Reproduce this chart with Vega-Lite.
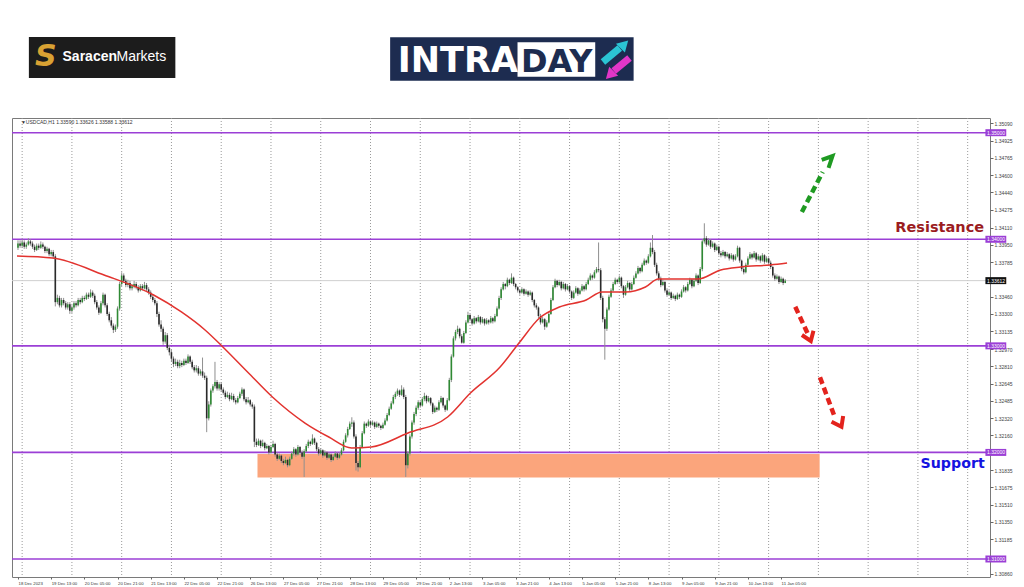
{
"$schema": "https://vega.github.io/schema/vega-lite/v6.json",
"width": 978, "height": 459,
"autosize": {"type": "none"},
"padding": {"left": 12, "top": 118, "right": 34, "bottom": 10},
"background": "white",
"config": {"view": {"stroke": "#7a7a7a", "strokeWidth": 1}, "font": "Liberation Sans",
  "axisX": {"labelOverlap": false, "labelFontSize": 4.3},
  "axisY": {"labelOverlap": false, "labelFontSize": 5}},
"datasets": {
"one": [{}],
"days": [{"d":2},{"d":26},{"d":50},{"d":74},{"d":98},{"d":122},{"d":146},{"d":170},{"d":194},{"d":218},{"d":242},{"d":266},{"d":290},{"d":314},{"d":338},{"d":362},{"d":386},{"d":410},{"d":434},{"d":458}],
"levels": [{"lv":1.35,"t":"1.35000"},{"lv":1.34,"t":"1.34000"},{"lv":1.33,"t":"1.33000"},{"lv":1.32,"t":"1.32000"},{"lv":1.31,"t":"1.31000"}],
"bid": [{"lv":1.33612,"t":"1.33612"}],
"ma": [{"i":-0.48,"m":1.33843},{"i":16.7,"m":1.33824},{"i":41.5,"m":1.33665},{"i":65.4,"m":1.33477},{"i":78.8,"m":1.33318},{"i":90.2,"m":1.33149},{"i":98.8,"m":1.3299},{"i":110.7,"m":1.32755},{"i":122.7,"m":1.3252},{"i":138.4,"m":1.32276},{"i":149.9,"m":1.32145},{"i":160.9,"m":1.32042},{"i":170.4,"m":1.32051},{"i":188.1,"m":1.32182},{"i":207.2,"m":1.32332},{"i":218.2,"m":1.32557},{"i":232.5,"m":1.32801},{"i":242.0,"m":1.33036},{"i":251.5,"m":1.33261},{"i":261.1,"m":1.33364},{"i":274.0,"m":1.3343},{"i":281.6,"m":1.33505},{"i":293.1,"m":1.33505},{"i":302.6,"m":1.33552},{"i":308.8,"m":1.33627},{"i":327.9,"m":1.33627},{"i":338.9,"m":1.33712},{"i":348.5,"m":1.3374},{"i":362.8,"m":1.33759},{"i":370.9,"m":1.33777}],
"shafts": [{"dir":"up","x":378.04,"p":1.34256,"x2":388.07,"p2":1.34631},{"dir":"down","x":374.85,"p":1.33367,"x2":380.77,"p2":1.33118},{"dir":"down","x":386.77,"p":1.32705,"x2":393.93,"p2":1.3233}],
"heads": [{"a":"g","dir":"up","k":0,"x":387.6,"p":1.34744},{"a":"g","dir":"up","k":1,"x":392.8,"p":1.34781},{"a":"g","dir":"up","k":2,"x":390.9,"p":1.34669},
{"a":"r1","dir":"down","k":0,"x":378.05,"p":1.33102},{"a":"r1","dir":"down","k":1,"x":382.34,"p":1.33046},{"a":"r1","dir":"down","k":2,"x":383.63,"p":1.33142},
{"a":"r2","dir":"down","k":0,"x":392.35,"p":1.32288},{"a":"r2","dir":"down","k":1,"x":397.13,"p":1.32241},{"a":"r2","dir":"down","k":2,"x":397.94,"p":1.32342}],
"bars": [
{"i":0,"o":1.3392,"h":1.3399,"l":1.3390,"c":1.3396},
{"i":1,"o":1.3396,"h":1.3399,"l":1.3392,"c":1.3394},
{"i":2,"o":1.3394,"h":1.3400,"l":1.3392,"c":1.3397},
{"i":3,"o":1.3397,"h":1.3399,"l":1.3391,"c":1.3393},
{"i":4,"o":1.3393,"h":1.3397,"l":1.3391,"c":1.3395},
{"i":5,"o":1.3395,"h":1.3401,"l":1.3394,"c":1.3398},
{"i":6,"o":1.3398,"h":1.3400,"l":1.3394,"c":1.3396},
{"i":7,"o":1.3396,"h":1.3398,"l":1.3391,"c":1.3393},
{"i":8,"o":1.3393,"h":1.3395,"l":1.3388,"c":1.3390},
{"i":9,"o":1.3390,"h":1.3396,"l":1.3389,"c":1.3394},
{"i":10,"o":1.3394,"h":1.3396,"l":1.3390,"c":1.3392},
{"i":11,"o":1.3392,"h":1.3398,"l":1.3391,"c":1.3395},
{"i":12,"o":1.3395,"h":1.3397,"l":1.3391,"c":1.3393},
{"i":13,"o":1.3393,"h":1.3394,"l":1.3387,"c":1.3389},
{"i":14,"o":1.3389,"h":1.3393,"l":1.3387,"c":1.3391},
{"i":15,"o":1.3391,"h":1.3392,"l":1.3384,"c":1.3386},
{"i":16,"o":1.3386,"h":1.3390,"l":1.3384,"c":1.3388},
{"i":17,"o":1.3388,"h":1.3390,"l":1.3382,"c":1.3384},
{"i":18,"o":1.3384,"h":1.3386,"l":1.3337,"c":1.3341},
{"i":19,"o":1.3341,"h":1.3348,"l":1.3339,"c":1.3345},
{"i":20,"o":1.3345,"h":1.3347,"l":1.3336,"c":1.3338},
{"i":21,"o":1.3338,"h":1.3345,"l":1.3336,"c":1.3343},
{"i":22,"o":1.3343,"h":1.3345,"l":1.3338,"c":1.3340},
{"i":23,"o":1.3340,"h":1.3342,"l":1.3334,"c":1.3336},
{"i":24,"o":1.3336,"h":1.3341,"l":1.3334,"c":1.3339},
{"i":25,"o":1.3339,"h":1.3341,"l":1.3330,"c":1.3333},
{"i":26,"o":1.3333,"h":1.3338,"l":1.3331,"c":1.3336},
{"i":27,"o":1.3336,"h":1.3342,"l":1.3334,"c":1.3340},
{"i":28,"o":1.3340,"h":1.3342,"l":1.3336,"c":1.3338},
{"i":29,"o":1.3338,"h":1.3345,"l":1.3337,"c":1.3343},
{"i":30,"o":1.3343,"h":1.3345,"l":1.3339,"c":1.3341},
{"i":31,"o":1.3341,"h":1.3347,"l":1.3340,"c":1.3345},
{"i":32,"o":1.3345,"h":1.3347,"l":1.3342,"c":1.3344},
{"i":33,"o":1.3344,"h":1.3350,"l":1.3343,"c":1.3348},
{"i":34,"o":1.3348,"h":1.3350,"l":1.3344,"c":1.3346},
{"i":35,"o":1.3346,"h":1.3353,"l":1.3345,"c":1.3350},
{"i":36,"o":1.3350,"h":1.3352,"l":1.3345,"c":1.3347},
{"i":37,"o":1.3347,"h":1.3349,"l":1.3339,"c":1.3341},
{"i":38,"o":1.3341,"h":1.3343,"l":1.3334,"c":1.3336},
{"i":39,"o":1.3336,"h":1.3338,"l":1.3329,"c":1.3331},
{"i":40,"o":1.3331,"h":1.3342,"l":1.3330,"c":1.3340},
{"i":41,"o":1.3340,"h":1.3350,"l":1.3338,"c":1.3348},
{"i":42,"o":1.3348,"h":1.3349,"l":1.3336,"c":1.3338},
{"i":43,"o":1.3338,"h":1.3340,"l":1.3328,"c":1.3330},
{"i":44,"o":1.3330,"h":1.3332,"l":1.3322,"c":1.3324},
{"i":45,"o":1.3324,"h":1.3327,"l":1.3317,"c":1.3319},
{"i":46,"o":1.3319,"h":1.3321,"l":1.3312,"c":1.3315},
{"i":47,"o":1.3315,"h":1.3320,"l":1.3313,"c":1.3318},
{"i":48,"o":1.3318,"h":1.3337,"l":1.3316,"c":1.3335},
{"i":49,"o":1.3335,"h":1.3360,"l":1.3333,"c":1.3358},
{"i":50,"o":1.3358,"h":1.3369,"l":1.3356,"c":1.3366},
{"i":51,"o":1.3366,"h":1.3368,"l":1.3359,"c":1.3361},
{"i":52,"o":1.3361,"h":1.3363,"l":1.3355,"c":1.3357},
{"i":53,"o":1.3357,"h":1.3362,"l":1.3355,"c":1.3359},
{"i":54,"o":1.3359,"h":1.3361,"l":1.3352,"c":1.3354},
{"i":55,"o":1.3354,"h":1.3358,"l":1.3352,"c":1.3356},
{"i":56,"o":1.3356,"h":1.3361,"l":1.3354,"c":1.3358},
{"i":57,"o":1.3358,"h":1.3360,"l":1.3353,"c":1.3355},
{"i":58,"o":1.3355,"h":1.3357,"l":1.3350,"c":1.3352},
{"i":59,"o":1.3352,"h":1.3358,"l":1.3351,"c":1.3356},
{"i":60,"o":1.3356,"h":1.3358,"l":1.3352,"c":1.3354},
{"i":61,"o":1.3354,"h":1.3360,"l":1.3353,"c":1.3357},
{"i":62,"o":1.3357,"h":1.3359,"l":1.3351,"c":1.3353},
{"i":63,"o":1.3353,"h":1.3355,"l":1.3348,"c":1.3350},
{"i":64,"o":1.3350,"h":1.3352,"l":1.3344,"c":1.3346},
{"i":65,"o":1.3346,"h":1.3348,"l":1.3341,"c":1.3343},
{"i":66,"o":1.3343,"h":1.3345,"l":1.3338,"c":1.3340},
{"i":67,"o":1.3340,"h":1.3342,"l":1.3327,"c":1.3330},
{"i":68,"o":1.3330,"h":1.3332,"l":1.3318,"c":1.3320},
{"i":69,"o":1.3320,"h":1.3324,"l":1.3313,"c":1.3316},
{"i":70,"o":1.3316,"h":1.3318,"l":1.3301,"c":1.3304},
{"i":71,"o":1.3304,"h":1.3313,"l":1.3302,"c":1.3310},
{"i":72,"o":1.3310,"h":1.3312,"l":1.3296,"c":1.3298},
{"i":73,"o":1.3298,"h":1.3301,"l":1.3291,"c":1.3294},
{"i":74,"o":1.3294,"h":1.3296,"l":1.3285,"c":1.3288},
{"i":75,"o":1.3288,"h":1.3290,"l":1.3280,"c":1.3283},
{"i":76,"o":1.3283,"h":1.3288,"l":1.3281,"c":1.3285},
{"i":77,"o":1.3285,"h":1.3287,"l":1.3279,"c":1.3281},
{"i":78,"o":1.3281,"h":1.3287,"l":1.3279,"c":1.3284},
{"i":79,"o":1.3284,"h":1.3286,"l":1.3280,"c":1.3282},
{"i":80,"o":1.3282,"h":1.3288,"l":1.3281,"c":1.3286},
{"i":81,"o":1.3286,"h":1.3288,"l":1.3282,"c":1.3284},
{"i":82,"o":1.3284,"h":1.3292,"l":1.3283,"c":1.3290},
{"i":83,"o":1.3290,"h":1.3291,"l":1.3283,"c":1.3285},
{"i":84,"o":1.3285,"h":1.3287,"l":1.3278,"c":1.3280},
{"i":85,"o":1.3280,"h":1.3282,"l":1.3275,"c":1.3277},
{"i":86,"o":1.3277,"h":1.3282,"l":1.3275,"c":1.3279},
{"i":87,"o":1.3279,"h":1.3281,"l":1.3272,"c":1.3274},
{"i":88,"o":1.3274,"h":1.3278,"l":1.3272,"c":1.3276},
{"i":89,"o":1.3276,"h":1.3289,"l":1.3270,"c":1.3272},
{"i":90,"o":1.3272,"h":1.3275,"l":1.3268,"c":1.3270},
{"i":91,"o":1.3270,"h":1.3272,"l":1.3219,"c":1.3232},
{"i":92,"o":1.3232,"h":1.3248,"l":1.3230,"c":1.3245},
{"i":93,"o":1.3245,"h":1.3260,"l":1.3243,"c":1.3258},
{"i":94,"o":1.3258,"h":1.3264,"l":1.3256,"c":1.3262},
{"i":95,"o":1.3262,"h":1.3285,"l":1.3260,"c":1.3266},
{"i":96,"o":1.3266,"h":1.3268,"l":1.3258,"c":1.3260},
{"i":97,"o":1.3260,"h":1.3266,"l":1.3258,"c":1.3264},
{"i":98,"o":1.3264,"h":1.3266,"l":1.3257,"c":1.3259},
{"i":99,"o":1.3259,"h":1.3261,"l":1.3254,"c":1.3256},
{"i":100,"o":1.3256,"h":1.3258,"l":1.3250,"c":1.3252},
{"i":101,"o":1.3252,"h":1.3257,"l":1.3251,"c":1.3254},
{"i":102,"o":1.3254,"h":1.3256,"l":1.3248,"c":1.3250},
{"i":103,"o":1.3250,"h":1.3256,"l":1.3249,"c":1.3253},
{"i":104,"o":1.3253,"h":1.3255,"l":1.3247,"c":1.3249},
{"i":105,"o":1.3249,"h":1.3251,"l":1.3245,"c":1.3247},
{"i":106,"o":1.3247,"h":1.3253,"l":1.3246,"c":1.3251},
{"i":107,"o":1.3251,"h":1.3257,"l":1.3250,"c":1.3255},
{"i":108,"o":1.3255,"h":1.3261,"l":1.3253,"c":1.3259},
{"i":109,"o":1.3259,"h":1.3260,"l":1.3248,"c":1.3250},
{"i":110,"o":1.3250,"h":1.3252,"l":1.3245,"c":1.3247},
{"i":111,"o":1.3247,"h":1.3252,"l":1.3246,"c":1.3249},
{"i":112,"o":1.3249,"h":1.3250,"l":1.3243,"c":1.3245},
{"i":113,"o":1.3245,"h":1.3247,"l":1.3241,"c":1.3243},
{"i":114,"o":1.3243,"h":1.3245,"l":1.3205,"c":1.3210},
{"i":115,"o":1.3210,"h":1.3213,"l":1.3205,"c":1.3207},
{"i":116,"o":1.3207,"h":1.3213,"l":1.3206,"c":1.3211},
{"i":117,"o":1.3211,"h":1.3212,"l":1.3204,"c":1.3206},
{"i":118,"o":1.3206,"h":1.3212,"l":1.3205,"c":1.3209},
{"i":119,"o":1.3209,"h":1.3210,"l":1.3202,"c":1.3204},
{"i":120,"o":1.3204,"h":1.3208,"l":1.3203,"c":1.3206},
{"i":121,"o":1.3206,"h":1.3207,"l":1.3198,"c":1.3200},
{"i":122,"o":1.3200,"h":1.3207,"l":1.3199,"c":1.3205},
{"i":123,"o":1.3205,"h":1.3211,"l":1.3204,"c":1.3208},
{"i":124,"o":1.3208,"h":1.3209,"l":1.3196,"c":1.3198},
{"i":125,"o":1.3198,"h":1.3200,"l":1.3192,"c":1.3194},
{"i":126,"o":1.3194,"h":1.3199,"l":1.3193,"c":1.3197},
{"i":127,"o":1.3197,"h":1.3198,"l":1.3190,"c":1.3192},
{"i":128,"o":1.3192,"h":1.3194,"l":1.3188,"c":1.3190},
{"i":129,"o":1.3190,"h":1.3196,"l":1.3189,"c":1.3193},
{"i":130,"o":1.3193,"h":1.3194,"l":1.3186,"c":1.3188},
{"i":131,"o":1.3188,"h":1.3196,"l":1.3187,"c":1.3194},
{"i":132,"o":1.3194,"h":1.3201,"l":1.3193,"c":1.3199},
{"i":133,"o":1.3199,"h":1.3205,"l":1.3197,"c":1.3203},
{"i":134,"o":1.3203,"h":1.3204,"l":1.3196,"c":1.3198},
{"i":135,"o":1.3198,"h":1.3207,"l":1.3197,"c":1.3205},
{"i":136,"o":1.3205,"h":1.3206,"l":1.3198,"c":1.3200},
{"i":137,"o":1.3200,"h":1.3202,"l":1.3194,"c":1.3196},
{"i":138,"o":1.3196,"h":1.3203,"l":1.3177,"c":1.3201},
{"i":139,"o":1.3201,"h":1.3208,"l":1.3200,"c":1.3206},
{"i":140,"o":1.3206,"h":1.3212,"l":1.3204,"c":1.3210},
{"i":141,"o":1.3210,"h":1.3211,"l":1.3206,"c":1.3208},
{"i":142,"o":1.3208,"h":1.3217,"l":1.3207,"c":1.3213},
{"i":143,"o":1.3213,"h":1.3214,"l":1.3207,"c":1.3209},
{"i":144,"o":1.3209,"h":1.3210,"l":1.3201,"c":1.3203},
{"i":145,"o":1.3203,"h":1.3205,"l":1.3197,"c":1.3199},
{"i":146,"o":1.3199,"h":1.3204,"l":1.3198,"c":1.3202},
{"i":147,"o":1.3202,"h":1.3203,"l":1.3195,"c":1.3197},
{"i":148,"o":1.3197,"h":1.3202,"l":1.3196,"c":1.3200},
{"i":149,"o":1.3200,"h":1.3201,"l":1.3193,"c":1.3195},
{"i":150,"o":1.3195,"h":1.3200,"l":1.3194,"c":1.3198},
{"i":151,"o":1.3198,"h":1.3199,"l":1.3191,"c":1.3193},
{"i":152,"o":1.3193,"h":1.3198,"l":1.3192,"c":1.3196},
{"i":153,"o":1.3196,"h":1.3201,"l":1.3195,"c":1.3199},
{"i":154,"o":1.3199,"h":1.3200,"l":1.3193,"c":1.3195},
{"i":155,"o":1.3195,"h":1.3200,"l":1.3194,"c":1.3198},
{"i":156,"o":1.3198,"h":1.3204,"l":1.3197,"c":1.3202},
{"i":157,"o":1.3202,"h":1.3212,"l":1.3201,"c":1.3210},
{"i":158,"o":1.3210,"h":1.3218,"l":1.3209,"c":1.3216},
{"i":159,"o":1.3216,"h":1.3224,"l":1.3214,"c":1.3222},
{"i":160,"o":1.3222,"h":1.3229,"l":1.3221,"c":1.3227},
{"i":161,"o":1.3227,"h":1.3233,"l":1.3224,"c":1.3228},
{"i":162,"o":1.3228,"h":1.3230,"l":1.3213,"c":1.3215},
{"i":163,"o":1.3215,"h":1.3217,"l":1.3183,"c":1.3190},
{"i":164,"o":1.3190,"h":1.3192,"l":1.3182,"c":1.3186},
{"i":165,"o":1.3186,"h":1.3207,"l":1.3185,"c":1.3205},
{"i":166,"o":1.3205,"h":1.3220,"l":1.3204,"c":1.3218},
{"i":167,"o":1.3218,"h":1.3229,"l":1.3217,"c":1.3227},
{"i":168,"o":1.3227,"h":1.3228,"l":1.3223,"c":1.3225},
{"i":169,"o":1.3225,"h":1.3231,"l":1.3224,"c":1.3229},
{"i":170,"o":1.3229,"h":1.3230,"l":1.3224,"c":1.3226},
{"i":171,"o":1.3226,"h":1.3230,"l":1.3225,"c":1.3228},
{"i":172,"o":1.3228,"h":1.3229,"l":1.3222,"c":1.3224},
{"i":173,"o":1.3224,"h":1.3229,"l":1.3223,"c":1.3227},
{"i":174,"o":1.3227,"h":1.3228,"l":1.3223,"c":1.3225},
{"i":175,"o":1.3225,"h":1.3226,"l":1.3221,"c":1.3223},
{"i":176,"o":1.3223,"h":1.3228,"l":1.3222,"c":1.3226},
{"i":177,"o":1.3226,"h":1.3232,"l":1.3225,"c":1.3230},
{"i":178,"o":1.3230,"h":1.3237,"l":1.3229,"c":1.3235},
{"i":179,"o":1.3235,"h":1.3243,"l":1.3234,"c":1.3241},
{"i":180,"o":1.3241,"h":1.3248,"l":1.3240,"c":1.3246},
{"i":181,"o":1.3246,"h":1.3254,"l":1.3245,"c":1.3252},
{"i":182,"o":1.3252,"h":1.3257,"l":1.3250,"c":1.3255},
{"i":183,"o":1.3255,"h":1.3260,"l":1.3253,"c":1.3258},
{"i":184,"o":1.3258,"h":1.3259,"l":1.3252,"c":1.3254},
{"i":185,"o":1.3254,"h":1.3263,"l":1.3253,"c":1.3259},
{"i":186,"o":1.3259,"h":1.3261,"l":1.3250,"c":1.3252},
{"i":187,"o":1.3252,"h":1.3254,"l":1.3177,"c":1.3188},
{"i":188,"o":1.3188,"h":1.3201,"l":1.3185,"c":1.3199},
{"i":189,"o":1.3199,"h":1.3217,"l":1.3197,"c":1.3215},
{"i":190,"o":1.3215,"h":1.3230,"l":1.3213,"c":1.3228},
{"i":191,"o":1.3228,"h":1.3238,"l":1.3226,"c":1.3236},
{"i":192,"o":1.3236,"h":1.3244,"l":1.3234,"c":1.3242},
{"i":193,"o":1.3242,"h":1.3249,"l":1.3240,"c":1.3247},
{"i":194,"o":1.3247,"h":1.3248,"l":1.3242,"c":1.3244},
{"i":195,"o":1.3244,"h":1.3252,"l":1.3243,"c":1.3250},
{"i":196,"o":1.3250,"h":1.3256,"l":1.3248,"c":1.3253},
{"i":197,"o":1.3253,"h":1.3254,"l":1.3246,"c":1.3248},
{"i":198,"o":1.3248,"h":1.3253,"l":1.3247,"c":1.3251},
{"i":199,"o":1.3251,"h":1.3252,"l":1.3244,"c":1.3246},
{"i":200,"o":1.3246,"h":1.3247,"l":1.3236,"c":1.3238},
{"i":201,"o":1.3238,"h":1.3244,"l":1.3237,"c":1.3242},
{"i":202,"o":1.3242,"h":1.3243,"l":1.3238,"c":1.3240},
{"i":203,"o":1.3240,"h":1.3249,"l":1.3239,"c":1.3247},
{"i":204,"o":1.3247,"h":1.3253,"l":1.3246,"c":1.3251},
{"i":205,"o":1.3251,"h":1.3252,"l":1.3242,"c":1.3244},
{"i":206,"o":1.3244,"h":1.3245,"l":1.3238,"c":1.3240},
{"i":207,"o":1.3240,"h":1.3251,"l":1.3239,"c":1.3249},
{"i":208,"o":1.3249,"h":1.3270,"l":1.3248,"c":1.3268},
{"i":209,"o":1.3268,"h":1.3292,"l":1.3266,"c":1.3290},
{"i":210,"o":1.3290,"h":1.3309,"l":1.3289,"c":1.3307},
{"i":211,"o":1.3307,"h":1.3315,"l":1.3305,"c":1.3313},
{"i":212,"o":1.3313,"h":1.3319,"l":1.3311,"c":1.3316},
{"i":213,"o":1.3316,"h":1.3317,"l":1.3307,"c":1.3309},
{"i":214,"o":1.3309,"h":1.3311,"l":1.3302,"c":1.3303},
{"i":215,"o":1.3303,"h":1.3314,"l":1.3302,"c":1.3312},
{"i":216,"o":1.3312,"h":1.3324,"l":1.3311,"c":1.3322},
{"i":217,"o":1.3322,"h":1.3332,"l":1.3321,"c":1.3329},
{"i":218,"o":1.3329,"h":1.3330,"l":1.3323,"c":1.3325},
{"i":219,"o":1.3325,"h":1.3326,"l":1.3319,"c":1.3321},
{"i":220,"o":1.3321,"h":1.3328,"l":1.3320,"c":1.3326},
{"i":221,"o":1.3326,"h":1.3327,"l":1.3321,"c":1.3323},
{"i":222,"o":1.3323,"h":1.3329,"l":1.3322,"c":1.3327},
{"i":223,"o":1.3327,"h":1.3328,"l":1.3320,"c":1.3322},
{"i":224,"o":1.3322,"h":1.3327,"l":1.3321,"c":1.3325},
{"i":225,"o":1.3325,"h":1.3326,"l":1.3319,"c":1.3321},
{"i":226,"o":1.3321,"h":1.3326,"l":1.3320,"c":1.3324},
{"i":227,"o":1.3324,"h":1.3325,"l":1.3320,"c":1.3322},
{"i":228,"o":1.3322,"h":1.3328,"l":1.3321,"c":1.3326},
{"i":229,"o":1.3326,"h":1.3327,"l":1.3321,"c":1.3323},
{"i":230,"o":1.3323,"h":1.3330,"l":1.3322,"c":1.3328},
{"i":231,"o":1.3328,"h":1.3337,"l":1.3327,"c":1.3335},
{"i":232,"o":1.3335,"h":1.3347,"l":1.3334,"c":1.3345},
{"i":233,"o":1.3345,"h":1.3355,"l":1.3343,"c":1.3353},
{"i":234,"o":1.3353,"h":1.3360,"l":1.3352,"c":1.3358},
{"i":235,"o":1.3358,"h":1.3359,"l":1.3353,"c":1.3356},
{"i":236,"o":1.3356,"h":1.3364,"l":1.3355,"c":1.3362},
{"i":237,"o":1.3362,"h":1.3363,"l":1.3357,"c":1.3359},
{"i":238,"o":1.3359,"h":1.3368,"l":1.3358,"c":1.3364},
{"i":239,"o":1.3364,"h":1.3365,"l":1.3356,"c":1.3358},
{"i":240,"o":1.3358,"h":1.3359,"l":1.3353,"c":1.3355},
{"i":241,"o":1.3355,"h":1.3356,"l":1.3350,"c":1.3352},
{"i":242,"o":1.3352,"h":1.3353,"l":1.3348,"c":1.3350},
{"i":243,"o":1.3350,"h":1.3355,"l":1.3349,"c":1.3353},
{"i":244,"o":1.3353,"h":1.3354,"l":1.3347,"c":1.3349},
{"i":245,"o":1.3349,"h":1.3353,"l":1.3348,"c":1.3351},
{"i":246,"o":1.3351,"h":1.3352,"l":1.3346,"c":1.3348},
{"i":247,"o":1.3348,"h":1.3352,"l":1.3347,"c":1.3350},
{"i":248,"o":1.3350,"h":1.3351,"l":1.3341,"c":1.3343},
{"i":249,"o":1.3343,"h":1.3344,"l":1.3336,"c":1.3338},
{"i":250,"o":1.3338,"h":1.3340,"l":1.3334,"c":1.3336},
{"i":251,"o":1.3336,"h":1.3337,"l":1.3326,"c":1.3328},
{"i":252,"o":1.3328,"h":1.3330,"l":1.3320,"c":1.3322},
{"i":253,"o":1.3322,"h":1.3327,"l":1.3321,"c":1.3325},
{"i":254,"o":1.3325,"h":1.3326,"l":1.3315,"c":1.3318},
{"i":255,"o":1.3318,"h":1.3324,"l":1.3317,"c":1.3322},
{"i":256,"o":1.3322,"h":1.3332,"l":1.3321,"c":1.3330},
{"i":257,"o":1.3330,"h":1.3345,"l":1.3329,"c":1.3343},
{"i":258,"o":1.3343,"h":1.3357,"l":1.3342,"c":1.3355},
{"i":259,"o":1.3355,"h":1.3363,"l":1.3354,"c":1.3361},
{"i":260,"o":1.3361,"h":1.3362,"l":1.3355,"c":1.3357},
{"i":261,"o":1.3357,"h":1.3362,"l":1.3356,"c":1.3360},
{"i":262,"o":1.3360,"h":1.3361,"l":1.3352,"c":1.3354},
{"i":263,"o":1.3354,"h":1.3360,"l":1.3353,"c":1.3358},
{"i":264,"o":1.3358,"h":1.3359,"l":1.3351,"c":1.3353},
{"i":265,"o":1.3353,"h":1.3358,"l":1.3352,"c":1.3356},
{"i":266,"o":1.3356,"h":1.3357,"l":1.3349,"c":1.3351},
{"i":267,"o":1.3351,"h":1.3352,"l":1.3343,"c":1.3345},
{"i":268,"o":1.3345,"h":1.3352,"l":1.3344,"c":1.3350},
{"i":269,"o":1.3350,"h":1.3356,"l":1.3349,"c":1.3354},
{"i":270,"o":1.3354,"h":1.3355,"l":1.3347,"c":1.3349},
{"i":271,"o":1.3349,"h":1.3354,"l":1.3348,"c":1.3352},
{"i":272,"o":1.3352,"h":1.3358,"l":1.3351,"c":1.3356},
{"i":273,"o":1.3356,"h":1.3357,"l":1.3351,"c":1.3353},
{"i":274,"o":1.3353,"h":1.3360,"l":1.3352,"c":1.3358},
{"i":275,"o":1.3358,"h":1.3364,"l":1.3357,"c":1.3362},
{"i":276,"o":1.3362,"h":1.3368,"l":1.3361,"c":1.3366},
{"i":277,"o":1.3366,"h":1.3367,"l":1.3362,"c":1.3364},
{"i":278,"o":1.3364,"h":1.3371,"l":1.3363,"c":1.3369},
{"i":279,"o":1.3369,"h":1.3374,"l":1.3368,"c":1.3372},
{"i":280,"o":1.3372,"h":1.3397,"l":1.3369,"c":1.3371},
{"i":281,"o":1.3371,"h":1.3373,"l":1.3343,"c":1.3345},
{"i":282,"o":1.3345,"h":1.3347,"l":1.3322,"c":1.3325},
{"i":283,"o":1.3325,"h":1.3327,"l":1.3287,"c":1.3316},
{"i":284,"o":1.3316,"h":1.3336,"l":1.3314,"c":1.3334},
{"i":285,"o":1.3334,"h":1.3348,"l":1.3333,"c":1.3346},
{"i":286,"o":1.3346,"h":1.3354,"l":1.3345,"c":1.3352},
{"i":287,"o":1.3352,"h":1.3360,"l":1.3351,"c":1.3358},
{"i":288,"o":1.3358,"h":1.3364,"l":1.3357,"c":1.3362},
{"i":289,"o":1.3362,"h":1.3363,"l":1.3358,"c":1.3360},
{"i":290,"o":1.3360,"h":1.3366,"l":1.3359,"c":1.3364},
{"i":291,"o":1.3364,"h":1.3365,"l":1.3354,"c":1.3356},
{"i":292,"o":1.3356,"h":1.3357,"l":1.3345,"c":1.3348},
{"i":293,"o":1.3348,"h":1.3357,"l":1.3347,"c":1.3355},
{"i":294,"o":1.3355,"h":1.3361,"l":1.3354,"c":1.3359},
{"i":295,"o":1.3359,"h":1.3360,"l":1.3351,"c":1.3353},
{"i":296,"o":1.3353,"h":1.3360,"l":1.3352,"c":1.3358},
{"i":297,"o":1.3358,"h":1.3366,"l":1.3357,"c":1.3364},
{"i":298,"o":1.3364,"h":1.3370,"l":1.3363,"c":1.3368},
{"i":299,"o":1.3368,"h":1.3375,"l":1.3367,"c":1.3373},
{"i":300,"o":1.3373,"h":1.3374,"l":1.3368,"c":1.3370},
{"i":301,"o":1.3370,"h":1.3378,"l":1.3369,"c":1.3376},
{"i":302,"o":1.3376,"h":1.3382,"l":1.3375,"c":1.3380},
{"i":303,"o":1.3380,"h":1.3381,"l":1.3376,"c":1.3378},
{"i":304,"o":1.3378,"h":1.3386,"l":1.3377,"c":1.3384},
{"i":305,"o":1.3384,"h":1.3397,"l":1.3383,"c":1.3392},
{"i":306,"o":1.3392,"h":1.3404,"l":1.3386,"c":1.3388},
{"i":307,"o":1.3388,"h":1.3390,"l":1.3374,"c":1.3376},
{"i":308,"o":1.3376,"h":1.3378,"l":1.3366,"c":1.3368},
{"i":309,"o":1.3368,"h":1.3370,"l":1.3361,"c":1.3363},
{"i":310,"o":1.3363,"h":1.3365,"l":1.3355,"c":1.3357},
{"i":311,"o":1.3357,"h":1.3362,"l":1.3356,"c":1.3360},
{"i":312,"o":1.3360,"h":1.3361,"l":1.3350,"c":1.3352},
{"i":313,"o":1.3352,"h":1.3354,"l":1.3346,"c":1.3348},
{"i":314,"o":1.3348,"h":1.3352,"l":1.3347,"c":1.3350},
{"i":315,"o":1.3350,"h":1.3351,"l":1.3343,"c":1.3345},
{"i":316,"o":1.3345,"h":1.3349,"l":1.3344,"c":1.3347},
{"i":317,"o":1.3347,"h":1.3348,"l":1.3342,"c":1.3344},
{"i":318,"o":1.3344,"h":1.3350,"l":1.3343,"c":1.3348},
{"i":319,"o":1.3348,"h":1.3349,"l":1.3344,"c":1.3346},
{"i":320,"o":1.3346,"h":1.3353,"l":1.3345,"c":1.3351},
{"i":321,"o":1.3351,"h":1.3357,"l":1.3350,"c":1.3355},
{"i":322,"o":1.3355,"h":1.3356,"l":1.3350,"c":1.3352},
{"i":323,"o":1.3352,"h":1.3360,"l":1.3351,"c":1.3358},
{"i":324,"o":1.3358,"h":1.3364,"l":1.3357,"c":1.3362},
{"i":325,"o":1.3362,"h":1.3363,"l":1.3354,"c":1.3356},
{"i":326,"o":1.3356,"h":1.3363,"l":1.3355,"c":1.3361},
{"i":327,"o":1.3361,"h":1.3368,"l":1.3360,"c":1.3366},
{"i":328,"o":1.3366,"h":1.3367,"l":1.3357,"c":1.3359},
{"i":329,"o":1.3359,"h":1.3374,"l":1.3358,"c":1.3372},
{"i":330,"o":1.3372,"h":1.3400,"l":1.3370,"c":1.3398},
{"i":331,"o":1.3398,"h":1.3415,"l":1.3396,"c":1.3401},
{"i":332,"o":1.3401,"h":1.3403,"l":1.3393,"c":1.3395},
{"i":333,"o":1.3395,"h":1.3401,"l":1.3394,"c":1.3399},
{"i":334,"o":1.3399,"h":1.3400,"l":1.3391,"c":1.3393},
{"i":335,"o":1.3393,"h":1.3398,"l":1.3392,"c":1.3396},
{"i":336,"o":1.3396,"h":1.3397,"l":1.3388,"c":1.3390},
{"i":337,"o":1.3390,"h":1.3395,"l":1.3389,"c":1.3393},
{"i":338,"o":1.3393,"h":1.3394,"l":1.3385,"c":1.3387},
{"i":339,"o":1.3387,"h":1.3389,"l":1.3383,"c":1.3385},
{"i":340,"o":1.3385,"h":1.3390,"l":1.3384,"c":1.3388},
{"i":341,"o":1.3388,"h":1.3389,"l":1.3382,"c":1.3384},
{"i":342,"o":1.3384,"h":1.3388,"l":1.3383,"c":1.3386},
{"i":343,"o":1.3386,"h":1.3387,"l":1.3380,"c":1.3382},
{"i":344,"o":1.3382,"h":1.3387,"l":1.3381,"c":1.3385},
{"i":345,"o":1.3385,"h":1.3386,"l":1.3379,"c":1.3381},
{"i":346,"o":1.3381,"h":1.3386,"l":1.3380,"c":1.3384},
{"i":347,"o":1.3384,"h":1.3394,"l":1.3383,"c":1.3392},
{"i":348,"o":1.3392,"h":1.3393,"l":1.3378,"c":1.3380},
{"i":349,"o":1.3380,"h":1.3381,"l":1.3370,"c":1.3372},
{"i":350,"o":1.3372,"h":1.3374,"l":1.3367,"c":1.3369},
{"i":351,"o":1.3369,"h":1.3378,"l":1.3368,"c":1.3376},
{"i":352,"o":1.3376,"h":1.3384,"l":1.3375,"c":1.3382},
{"i":353,"o":1.3382,"h":1.3388,"l":1.3381,"c":1.3386},
{"i":354,"o":1.3386,"h":1.3387,"l":1.3381,"c":1.3383},
{"i":355,"o":1.3383,"h":1.3389,"l":1.3382,"c":1.3387},
{"i":356,"o":1.3387,"h":1.3388,"l":1.3379,"c":1.3381},
{"i":357,"o":1.3381,"h":1.3386,"l":1.3380,"c":1.3384},
{"i":358,"o":1.3384,"h":1.3385,"l":1.3378,"c":1.3380},
{"i":359,"o":1.3380,"h":1.3387,"l":1.3379,"c":1.3385},
{"i":360,"o":1.3385,"h":1.3386,"l":1.3377,"c":1.3379},
{"i":361,"o":1.3379,"h":1.3384,"l":1.3378,"c":1.3382},
{"i":362,"o":1.3382,"h":1.3383,"l":1.3376,"c":1.3378},
{"i":363,"o":1.3378,"h":1.3380,"l":1.3372,"c":1.3374},
{"i":364,"o":1.3374,"h":1.3375,"l":1.3364,"c":1.3366},
{"i":365,"o":1.3366,"h":1.3368,"l":1.3361,"c":1.3363},
{"i":366,"o":1.3363,"h":1.3367,"l":1.3362,"c":1.3365},
{"i":367,"o":1.3365,"h":1.3366,"l":1.3358,"c":1.3360},
{"i":368,"o":1.3360,"h":1.3365,"l":1.3359,"c":1.3363},
{"i":369,"o":1.3363,"h":1.3364,"l":1.3357,"c":1.3359},
{"i":370,"o":1.3359,"h":1.33626,"l":1.33588,"c":1.33612}
]
},
"layer": [
{"data": {"name": "days"}, "mark": {"type": "rule", "color": "#9a9a9a", "strokeDash": [1, 2], "strokeWidth": 1},
 "encoding": {"x": {"field": "d", "type": "quantitative", "scale": {"domain": [-0.48, 466.35], "nice": false, "zero": false},
   "axis": {"orient": "bottom", "values": [0,16,32,48,64,80,96,112,128,144,160,176,192,208,224,240,256,272,288,304,320,336,352,368], "tickCount": 60,
     "labelExpr": "['18 Dec 2023','19 Dec 13:00','20 Dec 05:00','20 Dec 21:00','21 Dec 13:00','22 Dec 05:00','22 Dec 21:00','26 Dec 13:00','27 Dec 05:00','27 Dec 21:00','28 Dec 13:00','29 Dec 05:00','29 Dec 21:00','2 Jan 13:00','3 Jan 05:00','3 Jan 21:00','4 Jan 13:00','5 Jan 05:00','5 Jan 21:00','8 Jan 13:00','9 Jan 05:00','9 Jan 21:00','10 Jan 13:00','11 Jan 05:00'][round(datum.value/16)]",
     "labelAlign": "left", "labelFontSize": 4.3, "labelColor": "#333", "labelPadding": 2, "tickSize": 2, "tickColor": "#666", "domain": false, "grid": false, "title": null, "labelOverlap": false, "labelFlush": false, "labelBound": false}}}},
{"data": {"name": "one"}, "mark": {"type": "rect", "color": "#fba57c"},
 "encoding": {"x": {"datum": 115.5, "type": "quantitative"}, "x2": {"datum": 386.6},
   "y": {"datum": 1.31985, "type": "quantitative"}, "y2": {"datum": 1.31765}}},
{"data": {"name": "levels"}, "mark": {"type": "rule", "color": "#9b3fd6", "strokeWidth": 1.6},
 "encoding": {"y": {"field": "lv", "type": "quantitative", "scale": {"domain": [1.30831, 1.35138], "nice": false, "zero": false},
     "axis": {"orient": "right", "values": [1.3509,1.34925,1.34765,1.346,1.3444,1.34275,1.3411,1.3395,1.33785,1.3346,1.333,1.33135,1.3297,1.3281,1.32645,1.32485,1.3232,1.3216,1.31835,1.31675,1.3151,1.3135,1.31185,1.3086], "tickCount": 60,
       "format": ".5f", "labelFontSize": 5, "labelColor": "#444", "labelPadding": 1, "tickSize": 3, "tickColor": "#666", "domain": false, "grid": false, "title": null, "labelOverlap": false, "labelBound": false, "labelFlush": false}}}},
{"data": {"name": "bid"}, "mark": {"type": "rule", "color": "#cfcfcf", "strokeWidth": 1},
 "encoding": {"y": {"field": "lv", "type": "quantitative"}}},
{"data": {"name": "bars"}, "mark": {"type": "rule", "color": "#8f8f8f", "strokeWidth": 1},
 "encoding": {"x": {"field": "i", "type": "quantitative"}, "y": {"field": "l", "type": "quantitative"}, "y2": {"field": "h"}}},
{"data": {"name": "bars"}, "mark": {"type": "bar", "orient": "vertical", "size": 1.6},
 "encoding": {"x": {"field": "i", "type": "quantitative"}, "y": {"field": "o", "type": "quantitative"}, "y2": {"field": "c"},
   "color": {"condition": {"test": "datum.c >= datum.o", "value": "#2f8a34"}, "value": "#2a2a2a"}}},
{"data": {"name": "ma"}, "mark": {"type": "line", "color": "#e2332f", "strokeWidth": 1.5, "interpolate": "monotone"},
 "encoding": {"x": {"field": "i", "type": "quantitative"}, "y": {"field": "m", "type": "quantitative"}}},
{"data": {"name": "shafts"}, "mark": {"type": "rule", "strokeWidth": 4.5, "strokeDash": [7, 4], "strokeCap": "butt"},
 "encoding": {"x": {"field": "x", "type": "quantitative"}, "x2": {"field": "x2"}, "y": {"field": "p", "type": "quantitative"}, "y2": {"field": "p2"},
   "color": {"field": "dir", "type": "nominal", "scale": {"domain": ["up", "down"], "range": ["#1f9a22", "#e3231d"]}, "legend": null}}},
{"data": {"name": "heads"}, "mark": {"type": "line", "strokeWidth": 4, "strokeJoin": "miter"},
 "encoding": {"x": {"field": "x", "type": "quantitative"}, "y": {"field": "p", "type": "quantitative"}, "order": {"field": "k"}, "detail": {"field": "a"},
   "color": {"field": "dir", "type": "nominal", "scale": {"domain": ["up", "down"], "range": ["#1f9a22", "#e3231d"]}, "legend": null}}},
{"data": {"name": "levels"}, "mark": {"type": "rule", "color": "#9b3fd6", "strokeWidth": 7},
 "encoding": {"x": {"datum": 466.55, "type": "quantitative"}, "x2": {"datum": 476.6}, "y": {"field": "lv", "type": "quantitative"}}},
{"data": {"name": "levels"}, "mark": {"type": "text", "color": "white", "fontSize": 5, "align": "left", "baseline": "middle"},
 "encoding": {"x": {"datum": 467.3, "type": "quantitative"}, "y": {"field": "lv", "type": "quantitative"}, "text": {"field": "t"}}},
{"data": {"name": "bid"}, "mark": {"type": "rule", "color": "#111111", "strokeWidth": 7},
 "encoding": {"x": {"datum": 466.55, "type": "quantitative"}, "x2": {"datum": 476.6}, "y": {"field": "lv", "type": "quantitative"}}},
{"data": {"name": "bid"}, "mark": {"type": "text", "color": "white", "fontSize": 5, "align": "left", "baseline": "middle"},
 "encoding": {"x": {"datum": 467.3, "type": "quantitative"}, "y": {"field": "lv", "type": "quantitative"}, "text": {"field": "t"}}},
{"data": {"name": "one"}, "mark": {"type": "text", "text": "▼USDCAD,H1  1.33590 1.33626 1.33588 1.33612", "fontSize": 5, "color": "#333", "align": "left", "baseline": "middle"},
 "encoding": {"x": {"datum": 1.4, "type": "quantitative"}, "y": {"datum": 1.351, "type": "quantitative"}}},
{"data": {"name": "one"}, "mark": {"type": "text", "text": "Resistance", "font": "DejaVu Sans", "fontWeight": "bold", "fontSize": 14.5, "color": "#9b1c1f", "align": "right", "baseline": "middle"},
 "encoding": {"x": {"datum": 465.9, "type": "quantitative"}, "y": {"datum": 1.34106, "type": "quantitative"}}},
{"data": {"name": "one"}, "mark": {"type": "text", "text": "Support", "font": "DejaVu Sans", "fontWeight": "bold", "fontSize": 14.2, "color": "#1414e0", "align": "right", "baseline": "middle"},
 "encoding": {"x": {"datum": 466.2, "type": "quantitative"}, "y": {"datum": 1.31891, "type": "quantitative"}}},
{"data": {"name": "one"}, "mark": {"type": "rect", "color": "#1c1c1c"},
 "encoding": {"x": {"datum": 5.25, "type": "quantitative"}, "x2": {"datum": 75.89}, "y": {"datum": 1.35898, "type": "quantitative"}, "y2": {"datum": 1.35513}}},
{"data": {"name": "one"}, "mark": {"type": "text", "text": "S", "font": "DejaVu Sans", "fontWeight": "bold", "fontStyle": "italic", "fontSize": 30, "color": "#d9a233", "align": "center", "baseline": "middle"},
 "encoding": {"x": {"datum": 13.4, "type": "quantitative"}, "y": {"datum": 1.35706, "type": "quantitative"}}},
{"data": {"name": "one"}, "mark": {"type": "text", "text": "Saracen", "font": "Liberation Sans", "fontWeight": "bold", "fontSize": 14, "color": "white", "align": "left", "baseline": "middle"},
 "encoding": {"x": {"datum": 21.48, "type": "quantitative"}, "y": {"datum": 1.3571, "type": "quantitative"}}},
{"data": {"name": "one"}, "mark": {"type": "text", "text": "Markets", "font": "Liberation Sans", "fontSize": 14, "color": "white", "align": "left", "baseline": "middle"},
 "encoding": {"x": {"datum": 47.49, "type": "quantitative"}, "y": {"datum": 1.3571, "type": "quantitative"}}},
{"data": {"name": "one"}, "mark": {"type": "rect", "color": "#1d2c50"},
 "encoding": {"x": {"datum": 179.47, "type": "quantitative"}, "x2": {"datum": 296.89}, "y": {"datum": 1.35895, "type": "quantitative"}, "y2": {"datum": 1.35488}}},
{"data": {"name": "one"}, "mark": {"type": "rect", "color": "white"},
 "encoding": {"x": {"datum": 240.9, "type": "quantitative"}, "x2": {"datum": 278.38}, "y": {"datum": 1.35848, "type": "quantitative"}, "y2": {"datum": 1.35525}}},
{"data": {"name": "one"}, "mark": {"type": "text", "text": "INTRA", "font": "DejaVu Sans", "fontWeight": "bold", "fontSize": 35, "color": "white", "align": "left", "baseline": "alphabetic"},
 "encoding": {"x": {"datum": 183.15, "type": "quantitative"}, "y": {"datum": 1.35567, "type": "quantitative"}}},
{"data": {"name": "one"}, "mark": {"type": "text", "text": "DAY", "font": "DejaVu Sans", "fontWeight": "bold", "fontSize": 32, "color": "#1d2c50", "align": "left", "baseline": "alphabetic"},
 "encoding": {"x": {"datum": 242.6, "type": "quantitative"}, "y": {"datum": 1.35567, "type": "quantitative"}}},
{"data": {"name": "one"}, "mark": {"type": "rule", "color": "#2bc4d4", "strokeWidth": 7},
 "encoding": {"x": {"datum": 282.1, "type": "quantitative"}, "x2": {"datum": 290.2}, "y": {"datum": 1.35663, "type": "quantitative"}, "y2": {"datum": 1.35795}}},
{"data": {"name": "one"}, "mark": {"type": "point", "shape": "triangle-up", "angle": 45, "size": 160, "filled": true, "color": "#2bc4d4", "opacity": 1},
 "encoding": {"x": {"datum": 292.4, "type": "quantitative"}, "y": {"datum": 1.3583, "type": "quantitative"}}},
{"data": {"name": "one"}, "mark": {"type": "rule", "color": "#e236c8", "strokeWidth": 7},
 "encoding": {"x": {"datum": 294.9, "type": "quantitative"}, "x2": {"datum": 287.3}, "y": {"datum": 1.35701, "type": "quantitative"}, "y2": {"datum": 1.35579}}},
{"data": {"name": "one"}, "mark": {"type": "point", "shape": "triangle-up", "angle": 225, "size": 160, "filled": true, "color": "#e236c8", "opacity": 1},
 "encoding": {"x": {"datum": 285.4, "type": "quantitative"}, "y": {"datum": 1.35541, "type": "quantitative"}}}
]
}
